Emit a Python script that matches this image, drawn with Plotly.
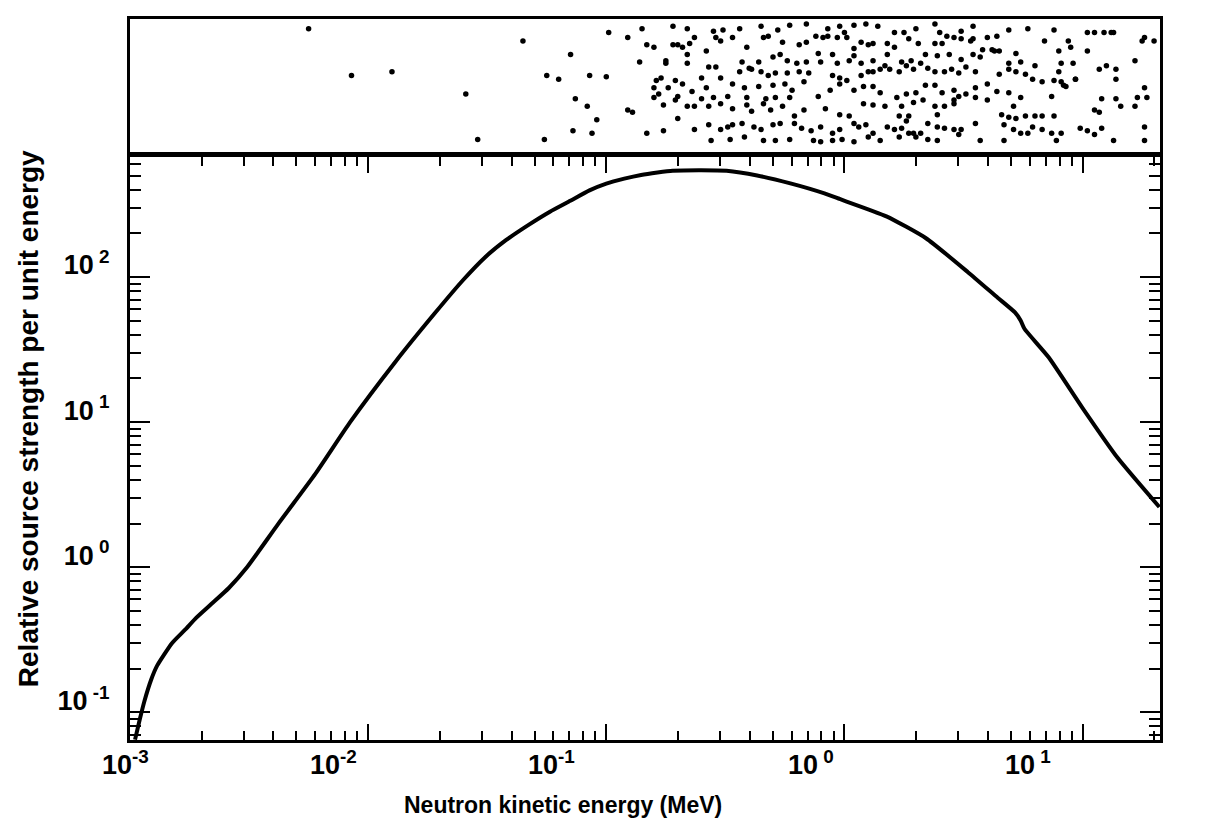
import numpy as np
import plotly.graph_objects as go

# spectrum curve (MeV, relative strength)
energy = [0.00105, 0.0011, 0.00115, 0.00123, 0.0013, 0.0015, 0.0017, 0.0019, 0.0022, 0.0026,
          0.0031, 0.0042, 0.006, 0.0084, 0.013, 0.019, 0.025, 0.031, 0.038, 0.047,
          0.058, 0.0706, 0.085, 0.1, 0.119, 0.14, 0.164, 0.19, 0.25, 0.32,
          0.43, 0.593, 0.824, 0.935, 1.5, 2.2, 3.3, 4.4, 5.2, 5.5,
          5.7, 7.2, 10, 14, 21]
strength = [0.065, 0.09, 0.12, 0.17, 0.21, 0.3, 0.37, 0.45, 0.56, 0.72,
            1.0, 2.0, 4.4, 10, 26, 56, 95, 137, 180, 228,
            282, 335, 395, 440, 476, 505, 525, 540, 545, 540,
            501, 442, 377, 349, 262, 185, 108, 72, 57, 50,
            44, 28, 12.5, 5.7, 2.6]

# sampled events shown in the strip above (log10 E, relative height)
dot_loge = [-2.25, -1.35, -2.07, -1.90, -1.59, -1.54, -1.26, -1.15, -1.25, -1.20, -1.07, -1.13, -1.08, -1.04, -1.14, -1.06, -1.00,
            -0.85, -0.72, -0.66, -0.55, -0.51, -0.44, -0.35, -0.28, -0.23, -0.16, -0.07, -0.02, 0.04, 0.09, 0.14, 0.21, 0.25, 0.30,
            0.38, 0.40, 0.49, 0.54, 0.69, 0.77, 0.88, 1.02, 1.05, 1.13, 1.25, 1.30, 0.54, 0.60, 0.64, -0.91, -0.99,
            -0.83, -0.80, -0.72, -0.70, -0.68, -0.65, -0.63, -0.54, -0.52, -0.47, -0.41, -0.34, -0.32, -0.26, -0.19, -0.16, -0.12,
            -0.09, -0.07, -0.03, 0.00, 0.01, 0.07, 0.04, 0.10, 0.12, 0.18, 0.21, 0.27, 0.31, 0.38, 0.41, 0.43, 0.46, 0.49, 0.53,
            0.58, 0.62, 0.65, 0.72, 0.84, 0.90, 0.94, 0.95, 1.02, 1.09, 1.12, 1.26, -0.58, -0.66, -0.75,
            -0.86, -0.75, -0.66, -0.57, -0.54, -0.43, -0.40, -0.36, -0.30, -0.27, -0.24, -0.20, -0.16, -0.11, -0.05, -0.10, -0.03,
            0.02, 0.04, 0.07, 0.12, 0.17, 0.18, 0.24, 0.28, 0.32, 0.34, 0.39, 0.44, 0.49, 0.54, 0.57, 0.63, 0.69, 0.74, 0.80,
            0.91, 0.96, 1.07, 1.10, 1.14, 1.22,
            -0.79, -0.77, -0.71, -0.68, -0.60, -0.52, -0.44, -0.39, -0.35, -0.32, -0.29, -0.24, -0.19, -0.15, -0.05, -0.02, 0.01,
            0.07, 0.10, 0.12, 0.15, 0.19, 0.23, 0.26, 0.29, 0.35, 0.38, 0.42, 0.45, 0.48, 0.51, 0.55, 0.60, 0.65, 0.69, 0.72,
            0.76, 0.79, 0.83, 0.88, 0.90, 0.92, 0.97, 1.14, 1.26,
            -0.80, -0.78, -0.80, -0.74, -0.70, -0.64, -0.58, -0.55, -0.49, -0.47, -0.42, -0.36, -0.30, -0.25, -0.22, -0.17, -0.23,
            -0.29, -0.33, -0.41, -0.11, -0.06, -0.02, 0.04, 0.08, 0.12, 0.15, 0.22, 0.26, 0.30, 0.34, 0.38, 0.41, 0.46, 0.48,
            0.51, 0.55, 0.64, 0.69, 0.74, 0.87, 0.91, 0.93, 0.97, 1.08, 1.14, 1.23, 1.27, 0.55, 0.46,
            -0.91, -0.89, -0.76, -0.71, -0.66, -0.63, -0.60, -0.57, -0.52, -0.47, -0.41, -0.39, -0.34, -0.31, -0.26, -0.21, -0.17,
            -0.08, -0.02, 0.02, 0.08, 0.12, 0.17, 0.24, 0.29, 0.33, 0.38, 0.42, 0.46, 0.60, 0.66, 0.69, 0.72, 0.76, 0.80, 0.83,
            0.88, 1.05, 1.07, 1.16, 1.22, 0.71, 0.23, 0.27, 0.39,
            -0.83, -0.76, -0.70, -0.63, -0.57, -0.52, -0.49, -0.47, -0.43, -0.38, -0.35, -0.30, -0.27, -0.21, -0.18, -0.14, -0.10,
            -0.05, -0.02, 0.04, 0.06, 0.09, 0.12, 0.18, 0.21, 0.24, 0.26, 0.29, 0.32, 0.35, 0.39, 0.42, 0.46, 0.49, 0.55, 0.67,
            0.71, 0.74, 0.77, 0.79, 0.83, 0.87, 0.91, 0.99, 1.08, 1.26,
            -0.56, -0.48, -0.42, -0.34, -0.29, -0.23, -0.13, -0.10, -0.05, -0.01, 0.04, 0.10, 0.15, 0.23, 0.27, 0.30, 0.35,
            0.39, 0.48, 0.57, 0.67, 0.89, 1.13, 1.26, 1.02, 1.05]
dot_h = [0.96, 0.86, 0.58, 0.61, 0.43, 0.06, 0.06, 0.75, 0.58, 0.55, 0.58, 0.39, 0.33, 0.22, 0.13, 0.11, 0.57,
         0.96, 0.98, 0.96, 0.94, 0.95, 0.96, 0.98, 0.95, 0.99, 1.00, 0.96, 0.98, 0.99, 1.00, 0.98, 0.93, 0.93, 0.96,
         1.00, 0.93, 0.94, 0.98, 0.95, 0.96, 0.95, 0.93, 0.93, 0.93, 0.86, 0.86, 0.88, 0.89, 0.90, 0.89, 0.93,
         0.83, 0.81, 0.83, 0.83, 0.81, 0.84, 0.89, 0.89, 0.86, 0.89, 0.81, 0.89, 0.90, 0.85, 0.83, 0.85, 0.90,
         0.89, 0.90, 0.89, 0.93, 0.89, 0.85, 0.80, 0.83, 0.84, 0.84, 0.81, 0.88, 0.84, 0.84, 0.84, 0.90, 0.89, 0.88, 0.86,
         0.79, 0.79, 0.78, 0.76, 0.86, 0.78, 0.86, 0.81, 0.78, 0.93, 0.93, 0.89, 0.78, 0.75, 0.68,
         0.69, 0.70, 0.68, 0.65, 0.65, 0.69, 0.64, 0.69, 0.73, 0.75, 0.70, 0.68, 0.69, 0.76, 0.75, 0.69, 0.68,
         0.70, 0.74, 0.68, 0.70, 0.66, 0.75, 0.69, 0.70, 0.68, 0.75, 0.74, 0.75, 0.71, 0.75, 0.73, 0.78, 0.68, 0.69, 0.66,
         0.68, 0.68, 0.63, 0.66, 0.63, 0.70,
         0.54, 0.56, 0.54, 0.51, 0.56, 0.56, 0.61, 0.63, 0.61, 0.58, 0.60, 0.60, 0.61, 0.60, 0.58, 0.56, 0.54,
         0.58, 0.61, 0.61, 0.63, 0.63, 0.61, 0.66, 0.63, 0.64, 0.61, 0.61, 0.63, 0.60, 0.65, 0.61, 0.51, 0.59, 0.63, 0.61,
         0.59, 0.55, 0.53, 0.54, 0.61, 0.50, 0.55, 0.55, 0.48,
         0.48, 0.43, 0.40, 0.48, 0.41, 0.45, 0.48, 0.40, 0.41, 0.51, 0.48, 0.49, 0.50, 0.51, 0.46, 0.53, 0.40,
         0.40, 0.39, 0.40, 0.41, 0.46, 0.51, 0.46, 0.49, 0.49, 0.44, 0.40, 0.43, 0.44, 0.50, 0.50, 0.44, 0.46, 0.41,
         0.43, 0.48, 0.45, 0.44, 0.40, 0.41, 0.53, 0.49, 0.55, 0.39, 0.39, 0.40, 0.40, 0.40, 0.35,
         0.30, 0.28, 0.34, 0.38, 0.33, 0.33, 0.39, 0.33, 0.35, 0.31, 0.34, 0.29, 0.35, 0.30, 0.33, 0.25, 0.30,
         0.31, 0.26, 0.25, 0.35, 0.34, 0.33, 0.33, 0.36, 0.38, 0.33, 0.33, 0.38, 0.38, 0.26, 0.24, 0.23, 0.25, 0.25, 0.25,
         0.25, 0.30, 0.28, 0.33, 0.33, 0.33, 0.25, 0.25, 0.26,
         0.11, 0.13, 0.23, 0.14, 0.18, 0.14, 0.16, 0.18, 0.19, 0.16, 0.14, 0.18, 0.19, 0.19, 0.15, 0.13, 0.16,
         0.11, 0.14, 0.19, 0.16, 0.18, 0.11, 0.16, 0.14, 0.15, 0.21, 0.11, 0.11, 0.19, 0.16, 0.15, 0.14, 0.14, 0.19, 0.18,
         0.14, 0.11, 0.11, 0.16, 0.14, 0.11, 0.11, 0.15, 0.15, 0.16,
         0.05, 0.06, 0.08, 0.05, 0.05, 0.06, 0.05, 0.04, 0.05, 0.06, 0.04, 0.08, 0.05, 0.08, 0.11, 0.08, 0.06,
         0.05, 0.10, 0.05, 0.05, 0.05, 0.05, 0.05, 0.13, 0.10]

x_ticks = [1e-3, 1e-2, 1e-1, 1, 10]
x_labels = ['10<sup>-3</sup>', '10<sup>-2</sup>', '10<sup>-1</sup>', '10<sup> 0</sup>', '10<sup> 1</sup>']
y_ticks = [0.1, 1, 10, 100]
y_labels = ['10<sup> -1</sup>', '10<sup> 0</sup>', '10<sup> 1</sup>', '10<sup> 2</sup>']

family = 'Liberation Sans, Arial, Helvetica, sans-serif'
tick_font = dict(family=family, size=27, color='black', weight='bold')
xtitle_font = dict(family=family, size=23, color='black', weight='bold')
ytitle_font = dict(family=family, size=28, color='black', weight='bold')

fig = go.Figure()
fig.add_trace(go.Scatter(x=energy, y=strength, mode='lines',
                         line=dict(color='black', width=4, shape='spline', smoothing=0.5),
                         xaxis='x', yaxis='y', showlegend=False))
fig.add_trace(go.Scatter(x=dot_loge, y=dot_h, mode='markers', marker=dict(color='black', size=5.5),
                         xaxis='x2', yaxis='y2', showlegend=False))

axis_common = dict(showline=True, linecolor='black', linewidth=3, mirror='allticks', showgrid=False,
                   zeroline=False, ticks='inside', tickcolor='black', tickwidth=2)

# x tick labels placed as annotations, the printed labels sit left of their ticks
label_shift = [-5, -35, -55, -33, -55]
for v, t, s in zip(x_ticks, x_labels, label_shift):
    fig.add_annotation(x=np.log10(v), y=0, xref='x', yref='paper', text=t, showarrow=False,
                       yanchor='top', yshift=-4, xshift=s, font=tick_font)

fig.add_annotation(x=0.42, y=-0.09, xref='paper', yref='paper', text='Neutron kinetic energy (MeV)',
                   showarrow=False, yanchor='middle', font=xtitle_font)
fig.add_annotation(x=-0.099, y=0.445, xref='paper', yref='paper', text='Relative source strength per unit energy',
                   showarrow=False, textangle=-90, xanchor='center', yanchor='middle', font=ytitle_font)

fig.update_layout(
    width=1206, height=838,
    margin=dict(l=122, r=54, t=8, b=106),
    paper_bgcolor='white', plot_bgcolor='white',
    font=tick_font,
    xaxis=dict(type='log', range=[-3, 1.325], tickvals=x_ticks, showticklabels=False, ticklen=16,
               minor=dict(ticks='inside', ticklen=9, tickcolor='black', tickwidth=2, dtick='D1'),
               anchor='y', **axis_common),
    yaxis=dict(type='log', range=[-1.19, 2.824], tickvals=y_ticks, ticktext=y_labels, ticklen=20,
               ticklabelstandoff=12, ticklabelshift=-12, tickfont=tick_font,
               minor=dict(ticks='inside', ticklen=11, tickcolor='black', tickwidth=2, dtick='D1'),
               domain=[0, 0.808], anchor='x', **axis_common),
    xaxis2=dict(range=[-3, 1.325], showline=True, linecolor='black', linewidth=3, mirror=True,
                showticklabels=False, ticks='', showgrid=False, zeroline=False, anchor='y2'),
    yaxis2=dict(range=[-0.04, 1.04], showline=True, linecolor='black', linewidth=3, mirror=True,
                showticklabels=False, ticks='', showgrid=False, zeroline=False, domain=[0.816, 1], anchor='x2'),
)

fig.write_html("out.html")
